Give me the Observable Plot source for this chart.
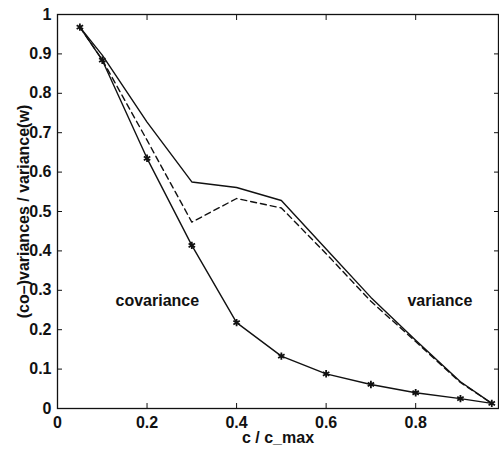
<!DOCTYPE html>
<html>
<head>
<meta charset="utf-8">
<script src="https://cdn.jsdelivr.net/npm/d3@7"></script>
<script src="https://cdn.jsdelivr.net/npm/@observablehq/plot@0.6"></script>
<style>
  html, body { margin: 0; padding: 0; background: #fff; }
</style>
</head>
<body>
<div id="chart"></div>
<script>
// c / c_max sample positions
const cValues = [0.05, 0.1, 0.2, 0.3, 0.4, 0.5, 0.6, 0.7, 0.8, 0.9, 0.97];
// covariance (solid with asterisk markers)
const covariance = [0.968, 0.884, 0.635, 0.414, 0.218, 0.133, 0.088, 0.061, 0.040, 0.025, 0.013];
// variance (solid upper line)
const varianceSolid = [0.968, 0.897, 0.727, 0.575, 0.561, 0.528, 0.405, 0.282, 0.173, 0.068, 0.013];
// variance (dashed line)
const varianceDashed = [0.968, 0.885, 0.681, 0.473, 0.533, 0.509, 0.393, 0.272, 0.170, 0.066, 0.013];

const xTicks = [0, 0.2, 0.4, 0.6, 0.8];
const yTicks = [0, 0.1, 0.2, 0.3, 0.4, 0.5, 0.6, 0.7, 0.8, 0.9, 1];
const annotations = [
  {label: "covariance", c: 0.223, v: 0.274},
  {label: "variance", c: 0.854, v: 0.274}
];

const rows = (ys) => cValues.map((c, i) => ({c, v: ys[i]}));
const cov = rows(covariance);
const varS = rows(varianceSolid);
const varD = rows(varianceDashed);

const fmt = d => String(+d.toFixed(1));

const chart = Plot.plot({
  width: 499,
  height: 453,
  marginLeft: 57,
  marginRight: 1,
  marginTop: 14,
  marginBottom: 45,
  style: {fontFamily: "'Liberation Sans', Arial, Helvetica, sans-serif", fontSize: "16px", color: "#111", background: "#fff"},
  x: {domain: [0, 0.985]},
  y: {domain: [0, 1]},
  marks: [
    Plot.frame({stroke: "#111", strokeWidth: 1.3}),
    // tick labels
    Plot.axisX(xTicks, {tickSize: 0, tickPadding: 8, tickFormat: fmt, fontWeight: "bold", label: "c / c_max", labelAnchor: "center", labelOffset: 34, labelArrow: "none"}),
    Plot.axisY(yTicks, {tickSize: 0, tickPadding: 6, tickFormat: fmt, fontWeight: "bold", label: "(co\u2013)variances / variance(w)", labelAnchor: "center", labelOffset: 40, labelArrow: "none"}),
    // inward tick marks
    Plot.axisX(xTicks.slice(1), {anchor: "bottom", tickSize: -5, text: null, label: null, stroke: "#111"}),
    Plot.axisX(xTicks.slice(1), {anchor: "top", tickSize: -5, text: null, label: null, stroke: "#111"}),
    Plot.axisY(yTicks.slice(1, -1), {anchor: "left", tickSize: -5, text: null, label: null, stroke: "#111"}),
    Plot.axisY(yTicks.slice(1, -1), {anchor: "right", tickSize: -5, text: null, label: null, stroke: "#111"}),
    // lines
    Plot.line(varS, {x: "c", y: "v", stroke: "#111", strokeWidth: 1.4}),
    Plot.line(varD, {x: "c", y: "v", stroke: "#111", strokeWidth: 1.4, strokeDasharray: "6,4"}),
    Plot.line(cov, {x: "c", y: "v", stroke: "#111", strokeWidth: 1.4}),
    Plot.dot(cov, {x: "c", y: "v", symbol: "asterisk", r: 3.5, stroke: "#111", strokeWidth: 1.8}),
    Plot.text(annotations, {x: "c", y: "v", text: "label", fontSize: 16, fontWeight: "bold", fill: "#111"})
  ]
});
document.getElementById("chart").appendChild(chart);
</script>
</body>
</html>
